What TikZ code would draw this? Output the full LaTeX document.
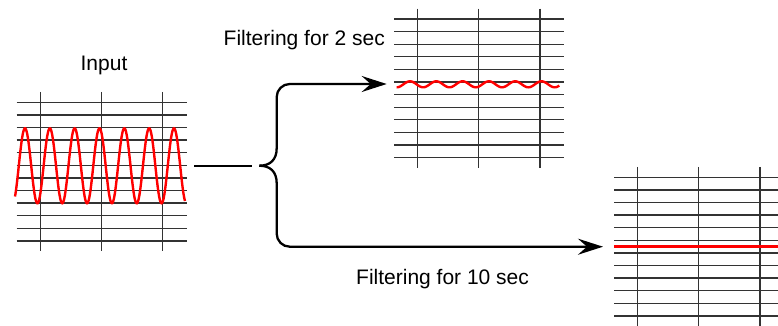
\documentclass[tikz,border=0pt]{standalone}
\usepackage{fontspec}
\setmainfont{Liberation Sans}
\usetikzlibrary{arrows.meta}

\tikzset{
  gridline/.style={line width=1.3pt, black!80},
  signal/.style={line width=2.4pt, red},
  flow/.style={line width=2.3pt, -{Stealth[length=25pt, width=16pt, inset=9pt]}},
  label/.style={inner sep=0pt, font=\fontsize{21}{25}\selectfont},
  filtgrid/.pic={
    \foreach \i in {0,...,11}
      \draw[gridline] (0, 12.6*\i) -- (170, 12.6*\i);
    \foreach \v in {23.7, 84.7, 146}
      \draw[gridline] (\v, -10.5) -- (\v, 149);
  }
}

\begin{document}
\begin{tikzpicture}[x=1pt, y=-1pt]
  \useasboundingbox (0,0) rectangle (778,325);

  % -- Grids --
  \pic (ingrid) at (16.7, 102.3) {filtgrid};
  \pic (shortgrid) at (394, 19) {filtgrid};
  \pic (longgrid) at (614, 177.3) {filtgrid};

  % -- Signals --
  \draw[signal] plot[domain=15:185, samples=400, smooth] (\x, {165.8-37.5*cos((\x-25)/24.83*360)});
  \draw[signal] plot[domain=396.7:559.3, samples=200, smooth] (\x, {84.3-3*cos((\x-410)/26.3*360)});
  \draw[signal] (614, 246.3) -- (778, 246.3);

  % -- Connector points --
  \coordinate (inout) at (194.3, 165.7);
  \coordinate (splitin) at (251.7, 165.7);
  \coordinate (brace) at (259.3, 165.7);
  \coordinate (braceup) at (276.7, 148);
  \coordinate (bracedown) at (276.7, 183.4);
  \coordinate (to2) at (386.7, 84);
  \coordinate (to10) at (603, 246.7);

  % -- Brace and arrows --
  \draw[line width=2.3pt] (inout) -- (splitin);
  \draw[flow] (brace) .. controls (270, 165.7) and (276.7, 160) .. (braceup) [rounded corners=13pt] |- (to2);
  \draw[flow] (brace) .. controls (270, 165.7) and (276.7, 171.4) .. (bracedown) [rounded corners=13pt] |- (to10);

  % -- Labels --
  \node[label, anchor=base] (inlabel) at (104, 70) {Input};
  \node[label, anchor=base east] (shortlabel) at (385, 45) {Filtering for 2 sec};
  \node[label, anchor=base west] (longlabel) at (356, 284.3) {Filtering for 10 sec};

\end{tikzpicture}
\end{document}
